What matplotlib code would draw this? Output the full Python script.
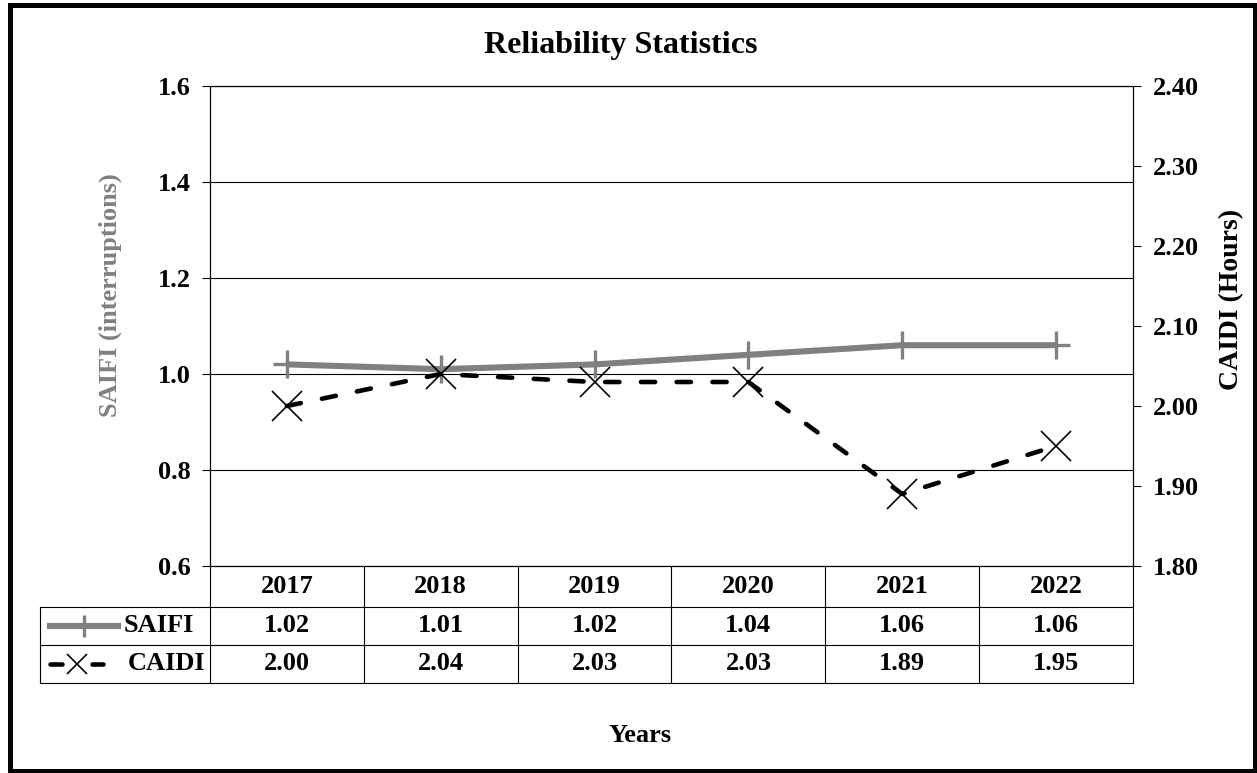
import matplotlib
matplotlib.use("Agg")
import matplotlib.pyplot as plt
from matplotlib.patches import Rectangle
from matplotlib.lines import Line2D
from matplotlib.transforms import blended_transform_factory

years = ["2017", "2018", "2019", "2020", "2021", "2022"]
saifi = [1.02, 1.01, 1.02, 1.04, 1.06, 1.06]
caidi = [2.00, 2.04, 2.03, 2.03, 1.89, 1.95]
saifi_ticks = [0.6, 0.8, 1.0, 1.2, 1.4, 1.6]
caidi_ticks = [1.80, 1.90, 2.00, 2.10, 2.20, 2.30, 2.40]

plt.rcParams["font.family"] = ["Liberation Serif", "DejaVu Serif"]
plt.rcParams["font.weight"] = "bold"
FS = 19
GRAY = "#808080"

W, H = 1257, 773
fig = plt.figure(figsize=(W / 100, H / 100), dpi=100)

L, R, T, B = 210, 1133, 86, 566
ax = fig.add_axes([L / W, 1 - B / H, (R - L) / W, (B - T) / H])
ax2 = ax.twinx()

x = list(range(len(years)))
ax.set_xlim(-0.5, len(years) - 0.5)
ax.set_ylim(saifi_ticks[0], saifi_ticks[-1])
ax2.set_ylim(caidi_ticks[0], caidi_ticks[-1])

ax.set_yticks(saifi_ticks)
ax.set_yticklabels([f"{v:.1f}" for v in saifi_ticks])
ax2.set_yticks(caidi_ticks)
ax2.set_yticklabels([f"{v:.2f}" for v in caidi_ticks])
ax.set_xticks([])
ax.yaxis.grid(True, color="black", linewidth=0.8)
ax.set_axisbelow(True)

for a in (ax, ax2):
    a.tick_params(axis="y", direction="out", length=6, width=0.8,
                  labelsize=FS, pad=8, colors="black")
    for s in a.spines.values():
        s.set_linewidth(0.8)
        s.set_color("black")

ax.plot(x, saifi, color=GRAY, linewidth=4.4, marker="+", markersize=20,
        markeredgewidth=2.4, solid_capstyle="butt", zorder=3)
ax2.plot(x, caidi, color="black", linewidth=3.3, linestyle=(0, (3.1, 4.7)),
         dash_capstyle="round", marker="x", markersize=22,
         markeredgewidth=1.2, zorder=4)

ax.set_ylabel("SAIFI (interruptions)", fontsize=FS, color=GRAY,
              fontweight="bold")
ax2.set_ylabel("CAIDI (Hours)", fontsize=FS + 1, color="black",
               fontweight="bold")
ax.yaxis.set_label_coords((110 - L) / (R - L), (B - 295) / (B - T))
ax2.yaxis.set_label_coords((1232 - L) / (R - L), (B - 299) / (B - T))
ax.yaxis.label.set_verticalalignment("center")
ax2.yaxis.label.set_verticalalignment("center")

# data table below the plot
tr = blended_transform_factory(ax.transData, ax.transAxes)
col_px = (R - L) / len(years)
def px2d(px):
    return (px - L) / col_px - 0.5

plot_h = B - T
r0 = 0.0
r1 = -41 / plot_h
r2 = r1 - 38 / plot_h
r3 = r2 - 38 / plot_h
xl = px2d(40)
xr = len(years) - 0.5
lw_t = 0.8

def hline(x0, x1, y):
    ax.add_line(Line2D([x0, x1], [y, y], transform=tr, color="black",
                       linewidth=lw_t, clip_on=False))

def vline(xx, y0, y1):
    ax.add_line(Line2D([xx, xx], [y0, y1], transform=tr,
                       color="black", linewidth=lw_t, clip_on=False))

hline(xl, xr, r1)
hline(xl, xr, r2)
hline(xl, xr, r3)
vline(xl, r1, r3)
for i in range(len(years) + 1):
    vline(i - 0.5, r0, r3)

for i, yr in enumerate(years):
    ax.text(i, (r0 + r1) / 2, yr, transform=tr, ha="center", va="center",
            fontsize=FS, fontweight="bold")
    ax.text(i, (r1 + r2) / 2, f"{saifi[i]:.2f}", transform=tr, ha="center",
            va="center", fontsize=FS, fontweight="bold")
    ax.text(i, (r2 + r3) / 2, f"{caidi[i]:.2f}", transform=tr, ha="center",
            va="center", fontsize=FS, fontweight="bold")

# legend keys in the row-label cells
ax.add_line(Line2D([px2d(50), px2d(118)], [(r1 + r2) / 2] * 2, transform=tr,
                   color=GRAY, linewidth=4.4, clip_on=False))
ax.add_line(Line2D([px2d(84)], [(r1 + r2) / 2], transform=tr, color=GRAY,
                   marker="+", markersize=16, markeredgewidth=2.4,
                   linestyle="none", clip_on=False))
ax.text(px2d(124), (r1 + r2) / 2, "SAIFI", transform=tr, ha="left",
        va="center", fontsize=FS, fontweight="bold")

yc = (r2 + r3) / 2
ax.add_line(Line2D([px2d(50), px2d(62)], [yc, yc], transform=tr,
                   color="black", linewidth=3.3, solid_capstyle="round",
                   clip_on=False))
ax.add_line(Line2D([px2d(92), px2d(103)], [yc, yc], transform=tr,
                   color="black", linewidth=3.3, solid_capstyle="round",
                   clip_on=False))
ax.add_line(Line2D([px2d(77)], [yc], transform=tr, color="black",
                   marker="x", markersize=14, markeredgewidth=1.2,
                   linestyle="none", clip_on=False))
ax.text(px2d(128), yc, "CAIDI", transform=tr, ha="left", va="center",
        fontsize=FS, fontweight="bold")

fig.text(621 / W, 1 - 45 / H, "Reliability Statistics", ha="center",
         va="center", fontsize=23, fontweight="bold")
fig.text(640 / W, 1 - 736 / H, "Years", ha="center", va="center",
         fontsize=FS, fontweight="bold")

# outer frame
fig.add_artist(Rectangle((9.5 / W, 2.5 / H), 1245 / W, 766 / H,
                         transform=fig.transFigure, fill=False,
                         edgecolor="black", linewidth=3.6))

fig.savefig("out.png", dpi=100, facecolor="white")
